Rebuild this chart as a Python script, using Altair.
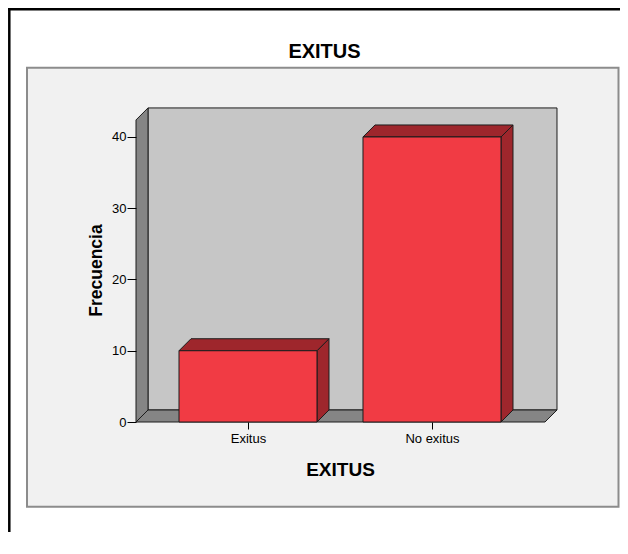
import json
import altair as alt
import pandas as pd

# ---- data ----
categories = ["Exitus", "No exitus"]
counts = [10, 40]
y_ticks = [0, 10, 20, 30, 40]
chart_title = "EXITUS"
x_title = "EXITUS"
y_title = "Frecuencia"

# ---- 3D frame geometry (in scale units) ----
X_MIN, X_MAX = -0.6087, 1.7283
Y_MIN, Y_MAX = 0.0, 45.19
L, R = -0.6087, 1.6141        # floor front edge
TOP = 42.39                   # wall height (front plane)
DX = 12 / 184                 # depth offset, x
DY = 12 / 7.125               # depth offset, y
HW = 0.375                    # half bar width

rows = []


def poly(name, face, pts):
    pts = pts + [pts[0]]
    for i, (x, y) in enumerate(pts):
        rows.append(dict(poly=name, face=face, o=i, x=x, y=y))


poly("back", "back", [(L + DX, DY), (R + DX, DY), (R + DX, TOP + DY), (L + DX, TOP + DY)])
poly("side", "side", [(L, 0), (L + DX, DY), (L + DX, TOP + DY), (L, TOP)])
poly("floor", "side", [(L, 0), (R, 0), (R + DX, DY), (L + DX, DY)])
for i, (c, v) in enumerate(zip(categories, counts)):
    poly(f"{c}-right", "dark", [(i + HW, 0), (i + HW + DX, DY), (i + HW + DX, v + DY), (i + HW, v)])
    poly(f"{c}-top", "dark", [(i - HW, v), (i + HW, v), (i + HW + DX, v + DY), (i - HW + DX, v + DY)])
    poly(f"{c}-front", "front", [(i - HW, 0), (i + HW, 0), (i + HW, v), (i - HW, v)])

df = pd.DataFrame(rows)

FONT = "Liberation Sans"
label_expr = json.dumps(categories) + "[datum.value]"

x_axis = alt.Axis(values=list(range(len(categories))), labelExpr=label_expr, domain=False, grid=False,
                  tickSize=7, tickColor="black", tickWidth=1, labelFontSize=13, labelColor="black",
                  labelFont=FONT, labelPadding=3, title=x_title, titleFont=FONT, titleFontSize=19,
                  titleFontWeight="bold", titleColor="black", titleX=204, titleY=53.7,
                  titleBaseline="alphabetic", titleAlign="center", zindex=1)
y_axis = alt.Axis(values=y_ticks, domain=False, grid=False, tickSize=9, tickColor="black", tickWidth=1,
                  labelFontSize=13, labelColor="black", labelFont=FONT, labelPadding=1,
                  title=y_title, titleFont=FONT, titleFontSize=17.5, titleFontWeight="bold",
                  titleColor="black", titleAngle=-90, titleX=-35, titleY=170,
                  titleBaseline="alphabetic", titleAlign="center", zindex=1)

base = alt.Chart(df).encode(
    x=alt.X("x:Q", scale=alt.Scale(domain=[X_MIN, X_MAX], nice=False, zero=False), axis=x_axis),
    y=alt.Y("y:Q", scale=alt.Scale(domain=[Y_MIN, Y_MAX], nice=False, zero=False), axis=y_axis),
    detail="poly:N",
    order="o:Q",
)

face_colors = {"back": "#c6c6c6", "side": "#858585", "dark": "#9e262c", "front": "#f13b44"}
poly_layers = [
    base.transform_filter(alt.datum.face == f).mark_line(
        fill=col, stroke="#1c1c1c", strokeWidth=1, strokeJoin="miter", interpolate="linear")
    for f, col in face_colors.items()
]

dummy = alt.Chart(pd.DataFrame({"a": [0]}))
panel = dummy.mark_rect(fill="#f1f1f1", stroke="#8c8c8c", strokeWidth=2).encode(
    x=alt.value(-109), x2=alt.value(482.5), y=alt.value(-32.3), y2=alt.value(406.7))
border_top = dummy.mark_rule(color="black", strokeWidth=2.5).encode(
    x=alt.value(-128), x2=alt.value(500), y=alt.value(-90.7))
border_left = dummy.mark_rule(color="black", strokeWidth=2.5).encode(
    x=alt.value(-126.7), y=alt.value(-92), y2=alt.value(460))
title = dummy.mark_text(text=chart_title, font=FONT, fontSize=20, fontWeight="bold", color="black",
                        align="center", baseline="alphabetic").encode(
    x=alt.value(188.5), y=alt.value(-41.7))

chart = alt.layer(border_top, border_left, panel, *poly_layers, title).properties(
    width=430, height=322,
    autosize=alt.AutoSizeParams(type="none"),
    padding={"left": 128, "top": 92, "right": 54, "bottom": 110},
    background="white",
).configure_view(stroke=None)

chart.save("out.html", embed_options={"renderer": "svg", "actions": False})
